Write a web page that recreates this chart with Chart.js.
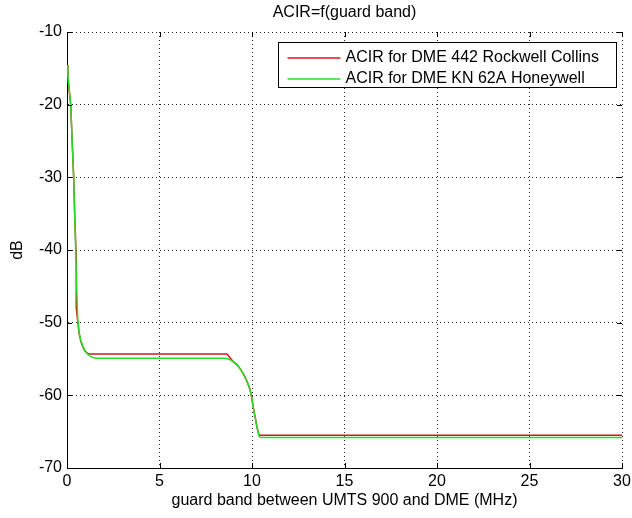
<!DOCTYPE html>
<html>
<head>
<meta charset="utf-8">
<title>ACIR=f(guard band)</title>
<script src="https://cdn.jsdelivr.net/npm/chart.js@4.4.1/dist/chart.umd.min.js"></script>
<style>
    html, body { margin: 0; padding: 0; background: #fff; }
    #wrap { width: 632px; height: 518px; }
</style>
</head>
<body>
<div id="wrap"><canvas id="acir"></canvas></div>
<script>
'use strict';

// ── Data ─────────────────────────────────────────────────────────
const chartTitle = 'ACIR=f(guard band)';
const xTitle     = 'guard band between UMTS 900 and DME (MHz)';
const yTitle     = 'dB';

const xTicks = [0, 5, 10, 15, 20, 25, 30];
const yTicks = [-10, -20, -30, -40, -50, -60, -70];

const rockwellLabel = 'ACIR for DME 442 Rockwell Collins';
const rockwellMHz = [0, 0.05, 0.1, 0.2, 0.28, 0.36, 0.42, 0.5, 0.5, 0.58,
    0.65, 0.75, 0.85, 0.97, 1.1, 1.2, 2, 4, 6, 8,
    8.5, 8.65, 8.8, 9.0, 9.2, 9.4, 9.57, 9.7, 9.84, 9.95,
    10.02, 10.1, 10.2, 10.27, 10.34, 10.4, 10.5, 12, 15, 20,
    25, 30];
const rockwellDb = [-14.6, -16.3, -17.6, -20, -25, -30, -35.5, -41, -48, -49.8,
    -51.4, -52.6, -53.3, -53.9, -54.2, -54.3, -54.3, -54.3, -54.3, -54.3,
    -54.3, -54.3, -54.8, -55.4, -55.8, -56.5, -57.2, -57.9, -58.8, -59.8,
    -60.9, -62.1, -63.4, -64.4, -65.1, -65.5, -65.5, -65.5, -65.5, -65.5,
    -65.5, -65.5];

const honeywellLabel = 'ACIR for DME KN 62A Honeywell';
const honeywellMHz = [0, 0.05, 0.1, 0.2, 0.28, 0.36, 0.42, 0.47, 0.53, 0.58,
    0.65, 0.75, 0.85, 0.97, 1.1, 1.25, 1.4, 1.6, 2, 4,
    6, 8, 8.5, 8.75, 9.0, 9.2, 9.4, 9.57, 9.7, 9.84,
    9.95, 10.02, 10.1, 10.2, 10.27, 10.34, 10.4, 10.5, 12, 15,
    20, 25, 30];
const honeywellDb = [-14.6, -16.0, -17.4, -20, -25, -30, -35.5, -40, -45.5, -49.5,
    -51.3, -52.5, -53.2, -53.8, -54.3, -54.6, -54.8, -54.9, -54.9, -54.9,
    -54.9, -54.9, -54.9, -55.0, -55.4, -55.8, -56.5, -57.2, -57.9, -58.8,
    -59.8, -60.9, -62.1, -63.4, -64.4, -65.2, -65.7, -65.8, -65.8, -65.8,
    -65.8, -65.8, -65.8];

// ── Styling ──────────────────────────────────────────────────────
const FONT   = '"Liberation Sans", Arial, Helvetica, sans-serif';
const RED    = 'rgb(214, 24, 24)';
const GREEN  = 'rgb(40, 222, 40)';

const toPoints = (xs, ys) => xs.map((x, i) => ({ x, y: ys[i] }));

// ── MATLAB-ish decorations: inward ticks, title, boxed legend ────
const matlabFrame = {
    id: 'matlabFrame',
    afterDraw(chart) {
        const { ctx, chartArea: a, scales: { x, y } } = chart;
        const tick = 5;

        ctx.save();
        ctx.strokeStyle = '#000';
        ctx.lineWidth = 1;
        ctx.beginPath();
        xTicks.forEach(v => {
            const px = Math.round(x.getPixelForValue(v)) + 0.5;
            ctx.moveTo(px, a.bottom); ctx.lineTo(px, a.bottom - tick);
            ctx.moveTo(px, a.top);    ctx.lineTo(px, a.top + tick);
        });
        yTicks.forEach(v => {
            const py = Math.round(y.getPixelForValue(v)) + 0.5;
            ctx.moveTo(a.left, py);  ctx.lineTo(a.left + tick, py);
            ctx.moveTo(a.right, py); ctx.lineTo(a.right - tick, py);
        });
        ctx.stroke();

        // title, centred over the axes
        ctx.fillStyle = '#000';
        ctx.font = `16px ${FONT}`;
        ctx.textAlign = 'center';
        ctx.textBaseline = 'middle';
        ctx.fillText(chartTitle, (a.left + a.right) / 2, 13);

        // legend box, top-right inside the axes
        const box = { l: 278.5, t: 42.5, w: 338, h: 45 };
        ctx.fillStyle = '#fff';
        ctx.fillRect(box.l, box.t, box.w, box.h);
        ctx.strokeStyle = '#000';
        ctx.strokeRect(box.l, box.t, box.w, box.h);

        ctx.textAlign = 'left';
        chart.data.datasets.forEach((ds, i) => {
            const rowY = box.t + 15.5 + i * 21;
            ctx.strokeStyle = ds.borderColor;
            ctx.lineWidth = 1.5;
            ctx.beginPath();
            ctx.moveTo(box.l + 9, rowY);
            ctx.lineTo(box.l + 62, rowY);
            ctx.stroke();
            ctx.fillStyle = '#000';
            ctx.fillText(ds.label, box.l + 67, rowY);
        });
        ctx.restore();
    }
};

// ── Chart ────────────────────────────────────────────────────────
new Chart(document.getElementById('acir'), {
    type: 'line',
    data: {
        datasets: [{
            label: rockwellLabel,
            data: toPoints(rockwellMHz, rockwellDb),
            borderColor: RED,
            borderWidth: 1.5,
            order: 1,
        }, {
            label: honeywellLabel,
            data: toPoints(honeywellMHz, honeywellDb),
            borderColor: GREEN,
            borderWidth: 1.5,
            order: 0,
        }]
    },
    options: {
        responsive: true,
        maintainAspectRatio: false,
        animation: false,
        parsing: false,
        elements: { point: { radius: 0 }, line: { tension: 0 } },
        layout: { padding: { top: 32, right: 10, left: 0, bottom: 0 } },
        plugins: {
            legend: { display: false },
            tooltip: { enabled: false },
        },
        scales: {
            x: {
                type: 'linear',
                min: 0, max: 30,
                afterBuildTicks: s => { s.ticks = xTicks.map(value => ({ value })); },
                afterFit: s => { s.height = 50; s.paddingRight = 0; s.paddingLeft = 0; },
                grid: { color: '#222', lineWidth: 1, drawTicks: false },
                border: { color: '#000', width: 1, dash: [1, 3] },
                ticks: { color: '#000', padding: 4, maxRotation: 0, font: { family: FONT, size: 16 } },
                title: { display: true, text: xTitle, color: '#000', padding: { top: 0, bottom: 8 }, font: { family: FONT, size: 16 } },
            },
            y: {
                type: 'linear',
                min: -70, max: -10,
                afterBuildTicks: s => { s.ticks = yTicks.map(value => ({ value })); },
                afterFit: s => { s.width = 67; },
                grid: { color: '#222', lineWidth: 1, drawTicks: false },
                border: { color: '#000', width: 1, dash: [1, 3] },
                ticks: { color: '#000', padding: 5, font: { family: FONT, size: 16 } },
                title: { display: true, text: yTitle, color: '#000', padding: { top: 8, bottom: 0 }, font: { family: FONT, size: 16 } },
            }
        }
    },
    plugins: [matlabFrame]
});
</script>
</body>
</html>
